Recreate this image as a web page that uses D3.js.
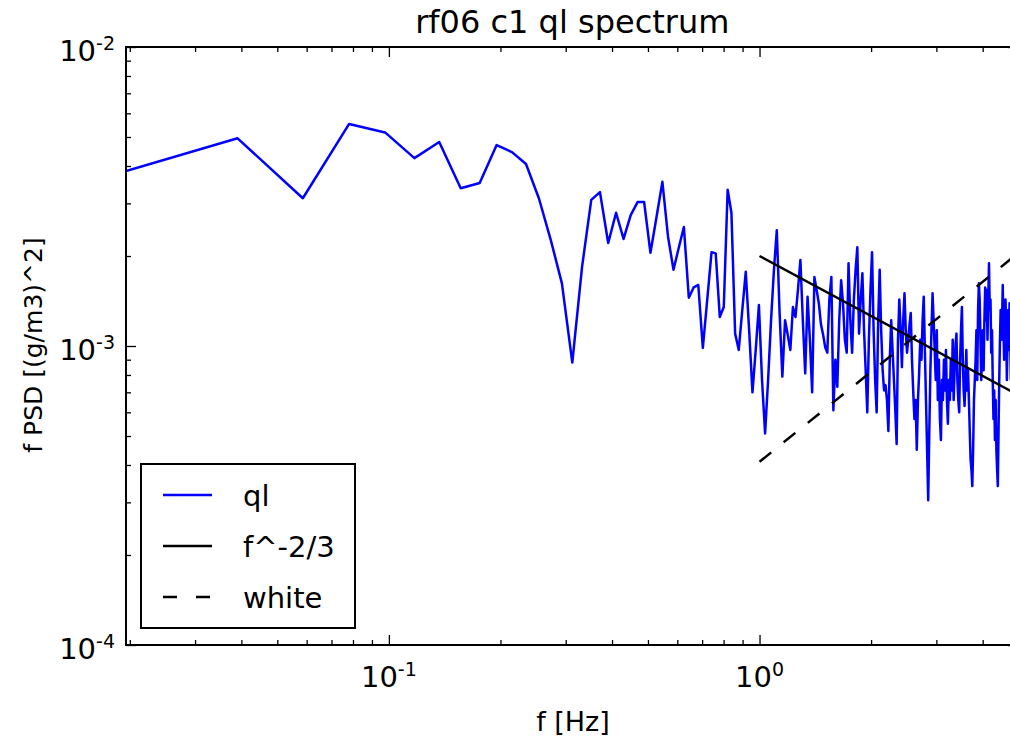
<!DOCTYPE html>
<html>
<head>
<meta charset="utf-8">
<script src="https://cdn.jsdelivr.net/npm/d3@7"></script>
<style>
  body { margin: 0; background: #fff; }
  text { font-family: "DejaVu Sans", sans-serif; fill: #000; }
</style>
</head>
<body>
<svg id="chart" width="1010" height="738"></svg>
<script>
// sampling setup of the spectrum: f_k = k * fs / nfft
const fs = 10
const nfft = 512

// f * PSD of ql, one value per frequency bin k = 1..256
const psd = [
  3.85e-3, 4.95e-3, 3.12e-3, 5.53e-3, 5.18e-3, 4.25e-3, 4.81e-3, 3.37e-3, 3.51e-3, 4.70e-3,
  4.45e-3, 4.06e-3, 3.12e-3, 2.26e-3, 1.62e-3, 8.8e-4, 1.84e-3, 3.08e-3, 3.27e-3, 2.21e-3,
  2.79e-3, 2.28e-3, 2.74e-3, 3.03e-3, 3.03e-3, 2.05e-3, 2.70e-3, 3.54e-3, 2.32e-3, 1.80e-3,
  2.13e-3, 2.50e-3, 1.45e-3, 1.57e-3, 1.60e-3, 9.85e-4, 1.43e-3, 2.06e-3, 2.04e-3, 1.25e-3,
  1.35e-3, 3.33e-3, 2.79e-3, 1.10e-3, 9.7e-4, 1.32e-3, 1.77e-3, 1.13e-3, 7.0e-4, 9.7e-4,
  1.37e-3, 7.7e-4, 5.1e-4, 7.7e-4, 1.22e-3, 1.80e-3, 2.44e-3, 1.29e-3, 7.9e-4, 1.22e-3,
  1.09e-3, 9.7e-4, 1.35e-3, 1.25e-3, 1.54e-3, 1.94e-3, 1.22e-3, 8.1e-4, 1.46e-3, 1.05e-3,
  7.0e-4, 1.70e-3, 1.54e-3, 1.39e-3, 1.18e-3, 1.09e-3, 9.9e-4, 9.5e-4, 1.43e-3, 1.70e-3,
  6.1e-4, 9.0e-4, 7.3e-4, 1.22e-3, 1.66e-3, 1.39e-3, 1.05e-3, 9.5e-4, 1.89e-3, 1.22e-3,
  9.5e-4, 1.43e-3, 1.80e-3, 2.14e-3, 1.10e-3, 1.43e-3, 1.75e-3, 1.13e-3, 8.3e-4, 6.0e-4,
  1.05e-3, 1.54e-3, 2.06e-3, 1.13e-3, 7.7e-4, 6.0e-4, 1.22e-3, 1.80e-3, 1.13e-3, 8.3e-4,
  7.1e-4, 7.4e-4, 6.6e-4, 5.2e-4, 9.0e-4, 1.22e-3, 9.7e-4, 7.7e-4, 6.1e-4, 4.7e-4,
  1.05e-3, 1.43e-3, 1.13e-3, 8.5e-4, 1.22e-3, 1.50e-3, 1.13e-3, 9.5e-4, 1.05e-3, 1.18e-3,
  1.29e-3, 9.0e-4, 7.1e-4, 5.7e-4, 6.6e-4, 4.5e-4, 6.6e-4, 8.1e-4, 1.05e-3, 9.0e-4,
  1.22e-3, 1.46e-3, 9.7e-4, 6.6e-4, 4.5e-4, 3.05e-4, 5.2e-4, 8.3e-4, 1.13e-3, 1.50e-3,
  1.22e-3, 9.7e-4, 7.7e-4, 1.13e-3, 6.6e-4, 9.0e-4, 5.7e-4, 4.85e-4, 7.7e-4, 6.6e-4,
  9.0e-4, 7.1e-4, 9.7e-4, 6.6e-4, 5.5e-4, 7.7e-4, 6.6e-4, 9.0e-4, 7.1e-4, 1.05e-3,
  6.6e-4, 8.3e-4, 1.01e-3, 1.10e-3, 7.7e-4, 6.6e-4, 6.0e-4, 9.0e-4, 1.13e-3, 1.35e-3,
  9.0e-4, 7.1e-4, 6.3e-4, 7.7e-4, 9.7e-4, 7.1e-4, 8.3e-4, 6.6e-4, 5.2e-4, 4.16e-4,
  3.85e-4, 3.4e-4, 4.5e-4, 6.6e-4, 7.7e-4, 9.0e-4, 1.13e-3, 7.7e-4, 1.32e-3, 1.62e-3,
  1.43e-3, 1.05e-3, 7.7e-4, 9.5e-4, 1.13e-3, 8.3e-4, 1.22e-3, 1.57e-3, 1.22e-3, 1.54e-3,
  1.05e-3, 1.43e-3, 1.89e-3, 1.32e-3, 1.43e-3, 9.5e-4, 1.13e-3, 7.7e-4, 5.7e-4, 7.1e-4,
  4.85e-4, 6.6e-4, 4.5e-4, 3.85e-4, 3.4e-4, 5.2e-4, 7.7e-4, 1.05e-3, 1.32e-3, 1.05e-3,
  1.22e-3, 1.60e-3, 1.13e-3, 9.0e-4, 1.22e-3, 1.43e-3, 1.13e-3, 7.7e-4, 1.05e-3, 1.32e-3,
  9.7e-4, 1.39e-3, 1.05e-3, 7.7e-4, 1.22e-3, 9.0e-4, 6.6e-4, 1.13e-3, 1.43e-3, 9.7e-4,
  7.1e-4, 1.05e-3, 1.32e-3, 9.0e-4, 7.7e-4, 1.13e-3
]

// reference power laws (end points, straight on log-log)
const slopeF = [1, 5]
const slopeP = [2.0e-3, 6.84e-4]   // f^-2/3
const whiteF = [1, 5]
const whiteP = [4.1e-4, 2.05e-3]   // white noise, f*PSD ~ f

const xTickLabels = [0.1, 1]
const yTickLabels = [1e-4, 1e-3, 1e-2]
const legendNames = ["ql", "f^-2/3", "white"]

const freq = psd.map((d, i) => (i + 1) * fs / nfft)

const svg = d3.select("#chart")
const margin = { left: 126, top: 47, bottom: 645, right: 1018.6 }

let xScale = d3.scaleLog()
    .domain([fs / nfft, fs / 2])
    .range([margin.left, margin.right])
let yScale = d3.scaleLog()
    .domain([1e-4, 1e-2])
    .range([margin.bottom, margin.top])

// minor ticks 2..9 of every decade
function minorTicks(scale) {
    let d = scale.domain(), out = []
    for (let e = -5; e <= 2; e++) {
        for (let m = 2; m <= 9; m++) {
            let v = m * Math.pow(10, e)
            if (v >= d[0] * 0.999 && v <= d[1] * 1.001) out.push(v)
        }
    }
    return out
}
function majorTicks(scale) {
    let d = scale.domain(), out = []
    for (let e = -5; e <= 2; e++) {
        let v = Math.pow(10, e)
        if (v >= d[0] * 0.999 && v <= d[1] * 1.001) out.push(v)
    }
    return out
}

// clip for data
svg.append("clipPath").attr("id", "plotClip")
    .append("rect")
    .attr("x", margin.left).attr("y", margin.top)
    .attr("width", margin.right - margin.left)
    .attr("height", margin.bottom - margin.top)

let plot = svg.append("g").attr("clip-path", "url(#plotClip)")

let line = d3.line()
    .x(d => xScale(d[0]))
    .y(d => yScale(d[1]))

plot.append("path")
    .datum(freq.map((f, i) => [f, psd[i]]))
    .attr("d", line)
    .attr("fill", "none")
    .attr("stroke", "#0000ff")
    .attr("stroke-width", 2.5)
    .attr("stroke-linejoin", "round")

plot.append("path")
    .datum(slopeF.map((f, i) => [f, slopeP[i]]))
    .attr("d", line)
    .attr("fill", "none")
    .attr("stroke", "#000")
    .attr("stroke-width", 2.5)

plot.append("path")
    .datum(whiteF.map((f, i) => [f, whiteP[i]]))
    .attr("d", line)
    .attr("fill", "none")
    .attr("stroke", "#000")
    .attr("stroke-width", 2.5)
    .attr("stroke-dasharray", "15,16")

// ticks, pointing inward on all four sides
function tickAxis(axis, vals, size, transform) {
    let g = svg.append("g")
        .attr("transform", transform)
        .call(axis.tickValues(vals).tickSizeInner(-size).tickSizeOuter(0).tickFormat(""))
    g.select(".domain").remove()
    g.selectAll("line").attr("stroke", "#000").attr("stroke-width", 1.3)
}
tickAxis(d3.axisBottom(xScale), majorTicks(xScale), 10, `translate(0,${margin.bottom})`)
tickAxis(d3.axisBottom(xScale), minorTicks(xScale), 5, `translate(0,${margin.bottom})`)
tickAxis(d3.axisTop(xScale), majorTicks(xScale), 10, `translate(0,${margin.top})`)
tickAxis(d3.axisTop(xScale), minorTicks(xScale), 5, `translate(0,${margin.top})`)
tickAxis(d3.axisLeft(yScale), majorTicks(yScale), 10, `translate(${margin.left},0)`)
tickAxis(d3.axisLeft(yScale), minorTicks(yScale), 5, `translate(${margin.left},0)`)
tickAxis(d3.axisRight(yScale), majorTicks(yScale), 10, `translate(${margin.right},0)`)
tickAxis(d3.axisRight(yScale), minorTicks(yScale), 5, `translate(${margin.right},0)`)

// frame
svg.append("rect")
    .attr("x", margin.left).attr("y", margin.top)
    .attr("width", margin.right - margin.left)
    .attr("height", margin.bottom - margin.top)
    .attr("fill", "none")
    .attr("stroke", "#000")
    .attr("stroke-width", 2)

// power-of-ten tick labels
function powLabel(sel, v) {
    let e = Math.round(Math.log10(v))
    sel.append("tspan").text("10")
    sel.append("tspan").attr("dy", -11).attr("font-size", 19).text(e)
}
svg.selectAll(".xlab").data(xTickLabels).enter()
    .append("text")
    .attr("class", "xlab")
    .attr("x", d => xScale(d))
    .attr("y", 687)
    .attr("text-anchor", "middle")
    .attr("font-size", 29)
    .each(function (d) { powLabel(d3.select(this), d) })

svg.selectAll(".ylab").data(yTickLabels).enter()
    .append("text")
    .attr("class", "ylab")
    .attr("x", 115)
    .attr("y", d => yScale(d) + 14)
    .attr("text-anchor", "end")
    .attr("font-size", 29)
    .each(function (d) { powLabel(d3.select(this), d) })

// titles
svg.append("text")
    .attr("x", (margin.left + margin.right) / 2)
    .attr("y", 33)
    .attr("text-anchor", "middle")
    .attr("font-size", 32)
    .text("rf06 c1 ql spectrum")

svg.append("text")
    .attr("x", 573)
    .attr("y", 731)
    .attr("text-anchor", "middle")
    .attr("font-size", 27)
    .text("f [Hz]")

svg.append("text")
    .attr("transform", "translate(42,345) rotate(-90)")
    .attr("text-anchor", "middle")
    .attr("font-size", 25)
    .text("f PSD [(g/m3)^2]")

// legend
let legend = svg.append("g")
legend.append("rect")
    .attr("x", 141).attr("y", 464)
    .attr("width", 214).attr("height", 164)
    .attr("fill", "#fff")
    .attr("stroke", "#000")
    .attr("stroke-width", 2)

let legendStyle = [
    { color: "#0000ff", dash: null },
    { color: "#000", dash: null },
    { color: "#000", dash: "14,19" }
]
legendNames.forEach((name, i) => {
    let y = 495 + i * 51
    legend.append("line")
        .attr("x1", 163).attr("x2", 212)
        .attr("y1", y).attr("y2", y)
        .attr("stroke", legendStyle[i].color)
        .attr("stroke-width", 2.5)
        .attr("stroke-dasharray", legendStyle[i].dash)
    legend.append("text")
        .attr("x", 243)
        .attr("y", y + 11)
        .attr("font-size", 29)
        .text(name)
})
</script>
</body>
</html>
